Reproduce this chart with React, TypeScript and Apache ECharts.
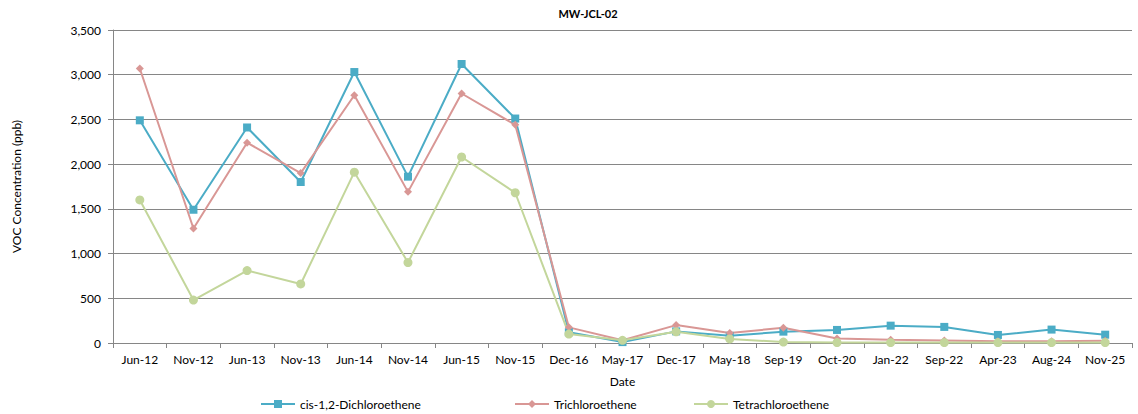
import React, { useEffect, useRef } from "react";
import * as echarts from "echarts";

const categories = ["Jun-12","Nov-12","Jun-13","Nov-13","Jun-14","Nov-14","Jun-15","Nov-15","Dec-16","May-17","Dec-17","May-18","Sep-19","Oct-20","Jan-22","Sep-22","Apr-23","Aug-24","Nov-25"];
const cisDCE = [2490,1490,2410,1800,3030,1860,3120,2510,120,10,130,80,127,146,194,180,90,150,93];
const tce = [3070,1280,2240,1900,2770,1690,2790,2440,175,30,200,112,170,50,35,28,20,20,25];
const pce = [1600,480,810,660,1910,900,2080,1680,100,30,125,45,10,5,5,5,5,5,5];
const yTicks = { min: 0, max: 3500, interval: 500 };

const FONT = "Lato, 'Noto Sans', sans-serif";

export default function App() {
  const ref = useRef<HTMLDivElement>(null);
  useEffect(() => {
    const chart = echarts.init(ref.current!, null, { renderer: "svg" });
    const mk = (name: string, data: number[], color: string, symbol: string, size: number) => ({
      name, type: "line", data, symbol, symbolSize: size,
      lineStyle: { color, width: 2 }, itemStyle: { color },
    });
    chart.setOption({
      animation: false,
      textStyle: { fontFamily: FONT },
      title: {
        text: "MW-JCL-02", left: 583, top: 3, textAlign: "center",
        textStyle: { fontSize: 11, fontWeight: "bold", color: "#000", fontFamily: FONT },
      },
      grid: { left: 113, right: 6, top: 30, bottom: 71 },
      legend: [
        { data: ["cis-1,2-Dichloroethene"], left: 255, top: 393 },
        { data: ["Trichloroethene"], left: 509, top: 393 },
        { data: ["Tetrachloroethene"], left: 688, top: 393 },
      ].map(l => ({ ...l, itemWidth: 34, itemHeight: 10, itemGap: 4, textStyle: { fontSize: 12, color: "#000", fontFamily: FONT } })),
      xAxis: {
        type: "category", data: categories, boundaryGap: true,
        name: "Date", nameLocation: "middle", nameGap: 32,
        nameTextStyle: { fontSize: 12, color: "#000", fontFamily: FONT },
        axisLine: { lineStyle: { color: "#868686" } },
        axisTick: { show: true, lineStyle: { color: "#868686" }, length: 5 },
        axisLabel: { fontSize: 12, color: "#000", margin: 10, interval: 0, fontFamily: FONT },
      },
      yAxis: {
        type: "value", ...yTicks,
        name: "VOC Concentration (ppb)", nameLocation: "middle", nameGap: 91,
        nameTextStyle: { fontSize: 12, color: "#000", fontFamily: FONT },
        axisLine: { show: true, lineStyle: { color: "#868686" } },
        axisTick: { show: true, lineStyle: { color: "#868686" }, length: 5 },
        axisLabel: { fontSize: 12, color: "#000", margin: 12, fontFamily: FONT,
          formatter: (v: number) => v.toLocaleString("en-US") },
        splitLine: { lineStyle: { color: "#868686" } },
      },
      series: [
        mk("cis-1,2-Dichloroethene", cisDCE, "#4BACC6", "rect", 8),
        mk("Trichloroethene", tce, "#D99795", "diamond", 8),
        mk("Tetrachloroethene", pce, "#C3D69B", "circle", 9),
      ],
    });
    return () => chart.dispose();
  }, []);
  return <div ref={ref} style={{ width: 1138, height: 414, position: "absolute", left: 0, top: 0 }} />;
}
